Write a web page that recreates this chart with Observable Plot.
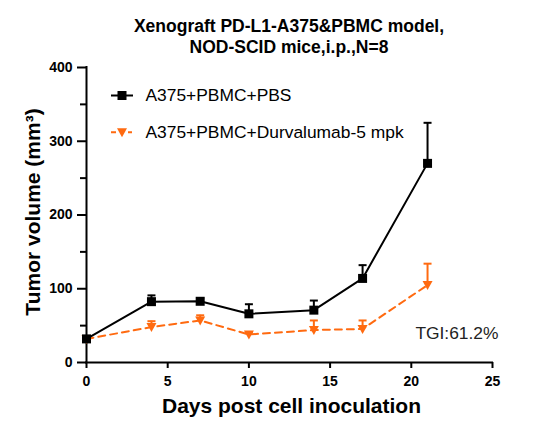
<!DOCTYPE html>
<html>
<head>
<meta charset="utf-8">
<script src="https://cdn.jsdelivr.net/npm/d3@7"></script>
<script src="https://cdn.jsdelivr.net/npm/@observablehq/plot@0.6"></script>
<style>
  html, body { margin: 0; padding: 0; background: #fff; }
  #wrap { position: relative; width: 546px; height: 434px; overflow: hidden; font-family: "Liberation Sans", Arial, sans-serif; }
  #title { position: absolute; left: 86px; width: 406px; top: 16px; text-align: center; font-weight: bold; font-size: 17.5px; line-height: 21px; color: #000; }
  #chart { position: absolute; left: 0; top: 60px; }
</style>
</head>
<body>
<div id="wrap">
  <div id="title">Xenograft PD-L1-A375&amp;PBMC model,<br>NOD-SCID mice,i.p.,N=8</div>
  <div id="chart"></div>
</div>
<script>
// ---- data ----
const days = [0, 4, 7, 10, 14, 17, 21];
const pbsMean = [32, 82.5, 83, 66, 71, 114, 270];
const pbsSem  = [3, 8.5, 4, 13, 13, 18, 55];
const durMean = [32, 48, 57, 38, 44, 45.5, 105];
const durSem  = [3, 8, 7, 3, 13, 11.5, 29];
const seriesNames = ["A375+PBMC+PBS", "A375+PBMC+Durvalumab-5 mpk"];
const yMajorTicks = [0, 100, 200, 300, 400];
const yMinorTicks = [50, 150, 250, 350];
const xTicks = [0, 5, 10, 15, 20, 25];
const xLabel = "Days post cell inoculation";
const yLabel = "Tumor volume (mm\u00B3)";
const annotation = "TGI:61.2%";

// ---- build tables ----
const pbs = days.map((d, i) => ({day: d, mean: pbsMean[i], top: pbsMean[i] + pbsSem[i]}));
const dur = days.map((d, i) => ({day: d, mean: durMean[i], top: durMean[i] + durSem[i]}));

const BLACK = "#000000";
const ORANGE = "#ff6a10";

const squareSym = {draw(c) { c.rect(-4.5, -4.5, 9, 9); }};
const triSym = {draw(c) { c.moveTo(-5, -4); c.lineTo(5, -4); c.lineTo(0, 5); c.closePath(); }};
const capSym = {draw(c) { c.moveTo(-4, 0); c.lineTo(4, 0); }};
const legLineSolid = {draw(c) { c.moveTo(-11, 0); c.lineTo(11, 0); }};
const legLineDash = {draw(c) { c.moveTo(-11, 0); c.lineTo(-6, 0); c.moveTo(6, 0); c.lineTo(10, 0); }};

const font = "'Liberation Sans', Arial, sans-serif";

const plot = Plot.plot({
  width: 546,
  height: 374,
  marginTop: 7,
  marginBottom: 72,
  marginLeft: 86,
  marginRight: 54,
  style: {fontFamily: font, fontSize: "14px", color: "#000", background: "#fff", overflow: "visible"},
  x: {domain: [0, 25]},
  y: {domain: [0, 400]},
  marks: [
    // axes
    Plot.axisY({ticks: yMinorTicks, tickSize: 6, tickFormat: () => "", strokeWidth: 2, label: null}),
    Plot.axisY({ticks: yMajorTicks, tickSize: 9, tickPadding: 5, strokeWidth: 2, fontWeight: "bold", fontSize: 14, label: null}),
    Plot.axisX({ticks: xTicks, tickSize: 6, tickPadding: 8, strokeWidth: 2, fontWeight: "bold", fontSize: 14, label: null}),
    Plot.ruleX([0], {stroke: BLACK, strokeWidth: 2, strokeLinecap: "square"}),
    Plot.ruleY([0], {stroke: BLACK, strokeWidth: 2, strokeLinecap: "square"}),
    // axis titles
    Plot.text([xLabel], {frameAnchor: "bottom", dy: 50, dx: 2, fontSize: 21, fontWeight: "bold", fill: BLACK}),
    Plot.text([yLabel], {frameAnchor: "left", textAnchor: "middle", lineAnchor: "middle", rotate: -90, dx: -53, dy: -3, fontSize: 21, fontWeight: "bold", fill: BLACK}),
    // Durvalumab series
    Plot.line(dur, {x: "day", y: "mean", stroke: ORANGE, strokeWidth: 2, strokeDasharray: "7,5"}),
    Plot.ruleX(dur, {x: "day", y1: "mean", y2: "top", stroke: ORANGE, strokeWidth: 2}),
    Plot.dot(dur, {x: "day", y: "top", symbol: capSym, stroke: ORANGE, strokeWidth: 2, fill: "none"}),
    Plot.dot(dur, {x: "day", y: "mean", symbol: triSym, fill: ORANGE, stroke: "none"}),
    // PBS series
    Plot.line(pbs, {x: "day", y: "mean", stroke: BLACK, strokeWidth: 2}),
    Plot.ruleX(pbs, {x: "day", y1: "mean", y2: "top", stroke: BLACK, strokeWidth: 2}),
    Plot.dot(pbs, {x: "day", y: "top", symbol: capSym, stroke: BLACK, strokeWidth: 2, fill: "none"}),
    Plot.dot(pbs, {x: "day", y: "mean", symbol: squareSym, fill: BLACK, stroke: "none"}),
    // legend
    Plot.dot([seriesNames[0]], {frameAnchor: "top-left", dx: 35.5, dy: 28, symbol: legLineSolid, stroke: BLACK, strokeWidth: 2, fill: "none"}),
    Plot.dot([seriesNames[0]], {frameAnchor: "top-left", dx: 35.5, dy: 28, symbol: squareSym, fill: BLACK, stroke: "none"}),
    Plot.text([seriesNames[0]], {frameAnchor: "top-left", lineAnchor: "middle", dx: 59, dy: 28, textAnchor: "start", fontSize: 17.4, fill: BLACK}),
    Plot.dot([seriesNames[1]], {frameAnchor: "top-left", dx: 35.5, dy: 64.7, symbol: legLineDash, stroke: ORANGE, strokeWidth: 2, fill: "none"}),
    Plot.dot([seriesNames[1]], {frameAnchor: "top-left", dx: 35.5, dy: 64.7, symbol: triSym, fill: ORANGE, stroke: "none"}),
    Plot.text([seriesNames[1]], {frameAnchor: "top-left", lineAnchor: "middle", dx: 59, dy: 64.7, textAnchor: "start", fontSize: 17.4, fill: BLACK}),
    // annotation
    Plot.text([annotation], {frameAnchor: "bottom-right", lineAnchor: "middle", dx: 6, dy: -29, textAnchor: "end", fontSize: 17.4, fill: "#222"})
  ]
});
document.getElementById("chart").appendChild(plot);
</script>
</body>
</html>
